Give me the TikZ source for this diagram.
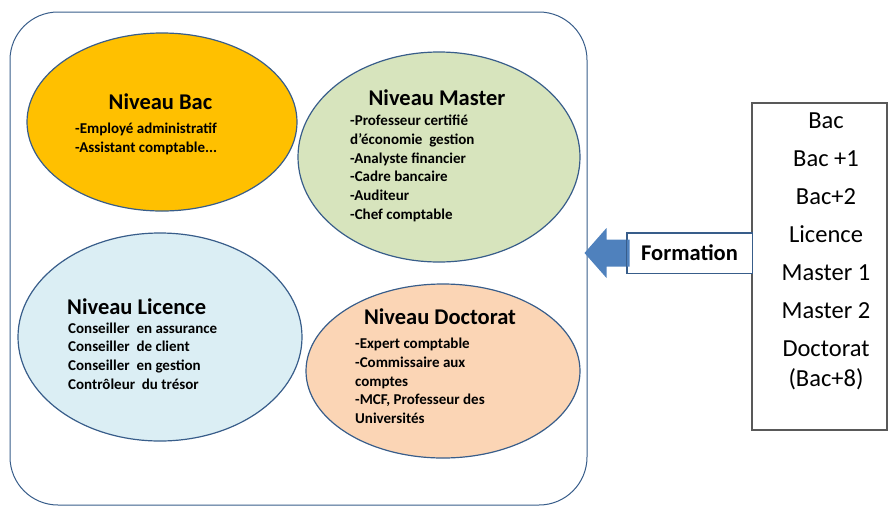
\documentclass[tikz,border=0pt]{standalone}
\usepackage{fontspec}
\setmainfont{Carlito}
\usetikzlibrary{shapes.geometric}
\definecolor{bordblue}{HTML}{385D8A}
\definecolor{arrowblue}{HTML}{4F81BD}
\definecolor{bacgold}{HTML}{FFC000}
\definecolor{mastergreen}{HTML}{D7E4BD}
\definecolor{licenceblue}{HTML}{DBEEF4}
\definecolor{doctpeach}{HTML}{FBD5B5}
\definecolor{boxgray}{HTML}{595959}

\begin{document}
\begin{tikzpicture}[x=1pt, y=-1pt,
    niveau/.style={ellipse, draw=bordblue, line width=1.2pt, inner sep=0pt},
    titre/.style={inner sep=0pt, font=\fontsize{22.5}{26}\selectfont\bfseries},
    metiers/.style={inner sep=0pt, anchor=north west, align=left, font=\fontsize{15}{18.7}\selectfont\bfseries}]
    \useasboundingbox (0,0) rectangle (889,515);

    \node[draw=bordblue, line width=1pt, rounded corners=48pt, minimum width=577pt, minimum height=493pt] (cadre) at (298.5,258.5) {} ;

    \node[niveau, fill=bacgold, minimum width=270pt, minimum height=178pt] (niveau_bac) at (162,122) {} ;
    \node[niveau, fill=mastergreen, minimum width=282pt, minimum height=210pt] (niveau_master) at (439,157) {} ;
    \node[niveau, fill=licenceblue, minimum width=284pt, minimum height=208pt] (niveau_licence) at (160,337) {} ;
    \node[niveau, fill=doctpeach, minimum width=274pt, minimum height=174pt] (niveau_doctorat) at (443,371) {} ;

    \node[titre, xshift=-1.5pt, yshift=20pt] (titre_bac) at (niveau_bac) {Niveau Bac} ;
    \node[metiers, xshift=-87pt, yshift=-1pt] (metiers_bac) at (niveau_bac) {-Employé administratif\\-Assistant comptable...} ;

    \node[titre, xshift=-2pt, yshift=59pt] (titre_master) at (niveau_master) {Niveau Master} ;
    \node[metiers, xshift=-89pt, yshift=42pt] (metiers_master) at (niveau_master) {-Professeur certifié\\d'économie~ gestion\\-Analyste financier\\-Cadre bancaire\\-Auditeur\\-Chef comptable} ;

    \node[titre, anchor=west, xshift=-93pt, yshift=30pt] (titre_licence) at (niveau_licence) {Niveau Licence} ;
    \node[metiers, xshift=-92pt, yshift=14.5pt] (metiers_licence) at (niveau_licence) {Conseiller~ en assurance\\Conseiller~ de client\\Conseiller~ en gestion\\Contrôleur~ du trésor} ;

    \node[titre, xshift=-3pt, yshift=54pt] (titre_doctorat) at (niveau_doctorat) {Niveau Doctorat} ;
    \node[metiers, xshift=-88pt, yshift=33pt] (metiers_doctorat) at (niveau_doctorat) {-Expert comptable\\-Commissaire aux\\comptes\\-MCF, Professeur des\\Universités} ;

    \node[draw=boxgray, line width=1.5pt, minimum width=135pt, minimum height=327pt] (diplomes) at (819.5,266.5) {} ;
    \node[inner sep=0pt, anchor=north, align=center, font=\fontsize{24.5}{38}\selectfont, xshift=6.5pt, yshift=153.5pt] (diplomes_liste) at (diplomes) {Bac\\Bac +1\\Bac+2\\Licence\\Master 1\\Master 2\\Doctorat\\[-8pt](Bac+8)} ;

    \node[draw=bordblue, fill=white, line width=1pt, minimum width=125pt, minimum height=40pt, font=\fontsize{22.5}{26}\selectfont\bfseries] (formation) at (689.5,253) {Formation} ;
    \fill[arrowblue] ([xshift=3pt, yshift=13.5pt]formation.west) -- ++(-23,0) -- ++(0,-11.5) -- ++(-22,25) -- ++(22,25) -- ++(0,-11.5) -- ++(23,0) -- cycle ;
    \draw[draw=bordblue, line width=1pt] (formation.north west) rectangle (formation.south east) ;
\end{tikzpicture}
\end{document}
